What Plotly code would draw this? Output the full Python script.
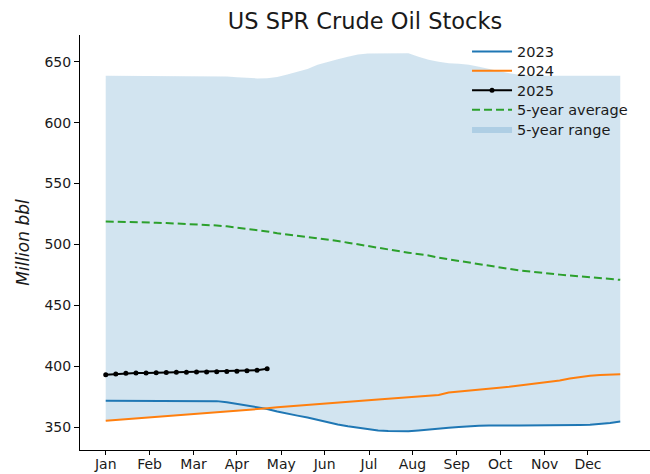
import plotly.graph_objects as go

weeks = list(range(1, 53))

month_labels = ["Jan", "Feb", "Mar", "Apr", "May", "Jun", "Jul", "Aug", "Sep", "Oct", "Nov", "Dec"]
month_ticks = [1, 5.35, 9.7, 14.0, 18.4, 22.7, 27.1, 31.4, 35.8, 40.1, 44.5, 48.8]

y2023 = [371.9, 371.9, 371.9, 371.9, 371.9, 371.9, 371.9, 371.9, 371.9, 371.9, 371.8, 371.5,
         370.6, 369.2, 368.0, 366.8, 365.1, 363.0, 361.0, 359.6, 358.0, 356.0, 354.0, 352.4,
         350.9, 349.6, 348.3, 347.4, 347.0, 346.8, 346.8, 347.5, 348.4, 349.0, 349.6, 350.3,
         351.0, 351.3, 351.6, 351.3, 351.4, 351.5, 351.5, 351.5, 351.5, 351.5, 351.7, 352.0,
         352.2, 352.7, 353.6, 354.7]

y2024 = [355.5, 356.1, 356.8, 357.4, 358.0, 358.6, 359.2, 359.8, 360.4, 361.0, 361.6, 362.3,
         362.9, 363.5, 364.1, 364.9, 365.6, 366.4, 367.1, 367.8, 368.5, 369.3, 370.0, 370.5,
         370.9, 372.0, 372.5, 372.9, 373.4, 374.0, 374.6, 375.2, 375.8, 376.6, 378.6, 379.5,
         380.0, 381.2, 382.0, 382.5, 383.3, 384.3, 385.3, 386.5, 387.7, 388.5, 390.0, 391.3,
         392.3, 392.9, 393.3, 393.5]

weeks2025 = list(range(1, 18))
y2025 = [393.2, 393.8, 394.3, 394.5, 394.6, 394.8, 395.0, 395.1, 395.2, 395.3, 395.4, 395.6,
         395.8, 396.1, 396.4, 396.9, 398.1]

avg5 = [518.9, 518.8, 518.6, 518.4, 518.1, 517.9, 517.6, 517.3, 517.0, 516.6, 516.1, 515.6,
        514.9, 514.0, 512.9, 511.8, 510.7, 509.3, 508.3, 507.3, 506.3, 505.3, 504.2, 502.9,
        501.5, 500.0, 498.5, 497.1, 495.8, 494.6, 493.3, 492.2, 491.0, 489.2, 487.8, 486.7,
        485.2, 483.8, 482.3, 481.0, 480.0, 478.8, 477.8, 476.8, 476.0, 475.3, 474.6, 474.0,
        473.3, 472.6, 471.8, 471.0]

range_high = [638.5, 638.5, 638.5, 638.4, 638.4, 638.3, 638.3, 638.2, 638.2, 638.1, 638.1, 638.0,
              637.9, 637.3, 636.5, 636.3, 636.5, 637.5, 639.5, 641.5, 644.0, 647.5, 650.0, 652.0,
              654.0, 655.8, 656.7, 656.9, 656.9, 656.9, 656.9, 654.0, 651.5, 650.0, 648.8, 648.4,
              647.5, 645.8, 644.0, 642.2, 640.6, 639.3, 638.6, 638.5, 638.5, 638.5, 638.5, 638.5,
              638.5, 638.5, 638.5, 638.5]

range_low = [355.5, 356.1, 356.8, 357.4, 358.0, 358.6, 359.2, 359.8, 360.4, 361.0, 361.6, 362.3,
             362.9, 363.5, 364.1, 364.9, 365.1, 363.0, 361.0, 359.6, 358.0, 356.0, 354.0, 352.4,
             350.9, 349.6, 348.3, 347.4, 347.0, 346.8, 346.8, 347.5, 348.4, 349.0, 349.6, 350.3,
             351.0, 351.3, 351.6, 351.3, 351.4, 351.5, 351.5, 351.5, 351.5, 351.5, 351.7, 352.0,
             352.2, 352.7, 353.6, 354.7]

FONT = "DejaVu Sans"
TXT = "#1a1a1a"

PLOT_TOP, PLOT_BOTTOM = 35, 450
LEG_Y0, LEG_DY = 51.5, 19.4


def leg_y(i):
    return (PLOT_BOTTOM - (LEG_Y0 + LEG_DY * i)) / (PLOT_BOTTOM - PLOT_TOP)


fig = go.Figure()

fig.add_trace(go.Scatter(x=weeks, y=range_low, mode="lines", line=dict(width=0, color="rgba(31,119,180,0)"),
                         showlegend=False, hoverinfo="skip"))
fig.add_trace(go.Scatter(x=weeks, y=range_high, mode="lines", line=dict(width=0, color="rgba(31,119,180,0)"),
                         fill="tonexty", fillcolor="rgba(31,119,180,0.2)", name="5-year range", legend="legend5"))
fig.add_trace(go.Scatter(x=weeks, y=y2023, mode="lines", line=dict(color="#1f77b4", width=2),
                         name="2023", legend="legend"))
fig.add_trace(go.Scatter(x=weeks, y=y2024, mode="lines", line=dict(color="#ff7f0e", width=2),
                         name="2024", legend="legend2"))
fig.add_trace(go.Scatter(x=weeks, y=avg5, mode="lines", line=dict(color="#2ca02c", width=2, dash="8px,4px"),
                         name="5-year average", legend="legend4"))
fig.add_trace(go.Scatter(x=weeks2025, y=y2025, mode="lines+markers", line=dict(color="black", width=2),
                         marker=dict(color="black", size=5), name="2025", legend="legend3"))

leg_common = dict(x=0.679, xanchor="left", yanchor="middle", bgcolor="rgba(0,0,0,0)",
                  font=dict(size=14.5, family=FONT, color=TXT), itemwidth=40)

fig.update_layout(
    width=650, height=474,
    margin=dict(l=80, r=0, t=PLOT_TOP, b=474 - PLOT_BOTTOM, autoexpand=False),
    paper_bgcolor="white", plot_bgcolor="white",
    font=dict(family=FONT, color=TXT, size=14),
    title=dict(text="US SPR Crude Oil Stocks", x=0.5, xref="paper", y=1 - 21 / 474, yref="container",
               yanchor="middle", xanchor="center", font=dict(size=22.5, family=FONT, color=TXT)),
    legend=dict(y=leg_y(0), **leg_common),
    legend2=dict(y=leg_y(1), **leg_common),
    legend3=dict(y=leg_y(2), **leg_common),
    legend4=dict(y=leg_y(3), **leg_common),
    legend5=dict(y=leg_y(4), **leg_common),
    showlegend=True,
)

fig.update_xaxes(range=[-1.55, 54.95], tickvals=month_ticks, ticktext=month_labels,
                 showgrid=False, zeroline=False, showline=True, linecolor="black", linewidth=1,
                 ticks="outside", ticklen=4, tickcolor="black", ticklabelstandoff=-3,
                 tickfont=dict(size=14, family=FONT, color=TXT))
fig.update_yaxes(range=[331.4, 671.9], tickvals=[350, 400, 450, 500, 550, 600, 650],
                 showgrid=False, zeroline=False, showline=True, linecolor="black", linewidth=1,
                 ticks="outside", ticklen=5, tickcolor="black", tickfont=dict(size=14, family=FONT, color=TXT),
                 title=dict(text="<i>Million bbl</i>", font=dict(size=17, family=FONT, color=TXT), standoff=10))

fig.write_html("out.html", config={"displayModeBar": False},
               post_script="document.body.style.margin='0';document.body.style.overflow='hidden';")
